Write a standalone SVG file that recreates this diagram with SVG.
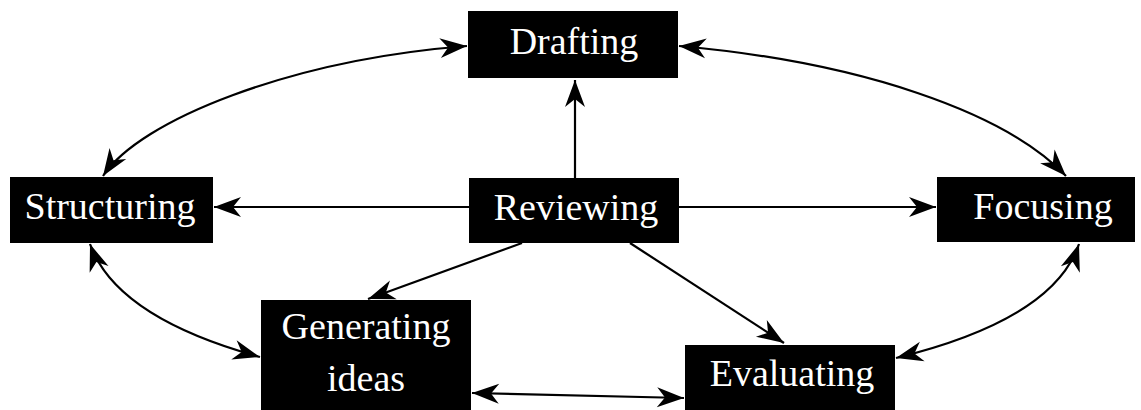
<svg xmlns="http://www.w3.org/2000/svg" width="1141" height="410" viewBox="0 0 1141 410">
<style>
.box{fill:#000}
.lbl{font-family:"Liberation Serif","Times New Roman",serif;font-size:38px;fill:#fff;text-anchor:middle}
.c{fill:none;stroke:#000;stroke-width:2.2}
</style>
<defs>
<marker id="ah" markerUnits="userSpaceOnUse" markerWidth="30" markerHeight="24" viewBox="-28 -12 30 24" refX="0" refY="0" orient="auto-start-reverse">
<path d="M0,0 L-27,-10 L-19,0 L-27,10 Z" fill="#000"/>
</marker>
</defs>
<rect width="1141" height="410" fill="#fff"/>
<g id="connectors">
<path class="c" d="M575,178 L575,80" marker-end="url(#ah)"/>
<path class="c" d="M469,207 L214,207" marker-end="url(#ah)"/>
<path class="c" d="M679,207 L936,207" marker-end="url(#ah)"/>
<path class="c" d="M522,243 L368,299" marker-end="url(#ah)"/>
<path class="c" d="M630,243 L784,343" marker-end="url(#ah)"/>
<path class="c" d="M467,46 C290,60 140,120 103,176" marker-start="url(#ah)" marker-end="url(#ah)"/>
<path class="c" d="M679,46 C860,62 1005,112 1066,176" marker-start="url(#ah)" marker-end="url(#ah)"/>
<path class="c" d="M90,244 C110,300 180,335 260,357" marker-start="url(#ah)" marker-end="url(#ah)"/>
<path class="c" d="M1079,244 C1060,300 990,335 896,358" marker-start="url(#ah)" marker-end="url(#ah)"/>
<path class="c" d="M472,393 L684,398" marker-start="url(#ah)" marker-end="url(#ah)"/>
</g>
<g id="drafting">
<rect class="box" x="468" y="11" width="210" height="67"/>
<text class="lbl" x="574" y="54">Drafting</text>
</g>
<g id="structuring">
<rect class="box" x="10" y="177" width="203" height="66"/>
<text class="lbl" x="110" y="219">Structuring</text>
</g>
<g id="reviewing">
<rect class="box" x="469" y="178" width="210" height="65"/>
<text class="lbl" x="576" y="220">Reviewing</text>
</g>
<g id="focusing">
<rect class="box" x="937" y="177" width="198" height="65"/>
<text class="lbl" x="1043" y="219">Focusing</text>
</g>
<g id="generating">
<rect class="box" x="261" y="300" width="210" height="110"/>
<text class="lbl" x="366" y="339">Generating</text>
<text class="lbl" x="366" y="391">ideas</text>
</g>
<g id="evaluating">
<rect class="box" x="685" y="345" width="210" height="65"/>
<text class="lbl" x="792" y="386">Evaluating</text>
</g>
</svg>
